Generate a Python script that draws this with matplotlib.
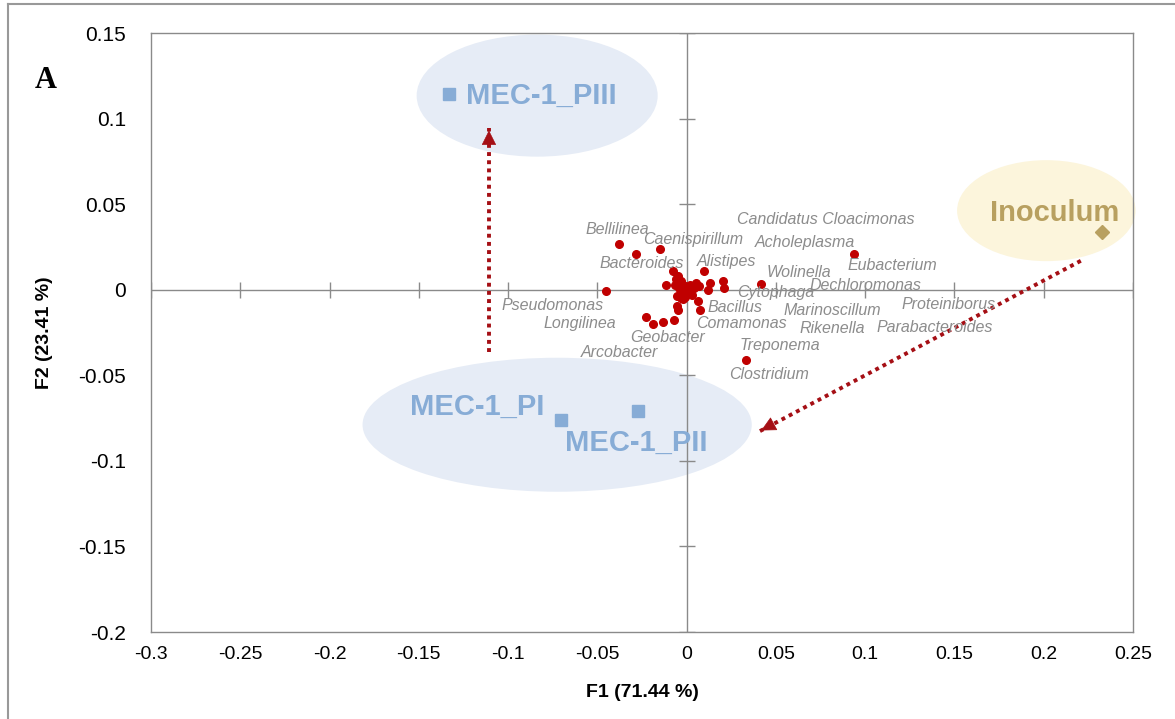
import matplotlib.pyplot as plt
from matplotlib.patches import Ellipse

# genus scores (F1, F2)
genus_x = [-0.0376, -0.0283, -0.015, -0.045, -0.0077, 0.0096, -0.0116, -0.0047, -0.0066,
           0.0, 0.007, 0.013, 0.0118, 0.0206, 0.0212, 0.0418, 0.094, -0.0056, -0.0019,
           0.0062, 0.0073, -0.0056, -0.005, -0.0229, -0.0189, -0.0133, -0.0071, 0.0333,
           -0.003, -0.001, 0.002, 0.004, -0.004, 0.001, -0.002, 0.003, -0.006, 0.005,
           -0.001, 0.006, -0.003, 0.002, 0.0015, -0.0025]
genus_y = [0.0269, 0.021, 0.0238, -0.001, 0.011, 0.011, 0.0025, 0.0078, 0.003,
           0.001, 0.002, 0.004, 0.0, 0.0053, 0.001, 0.0031, 0.021, -0.0039, -0.0054,
           -0.0068, -0.0117, -0.0097, -0.0121, -0.016, -0.0203, -0.0187, -0.0175, -0.0409,
           0.005, 0.002, 0.003, 0.001, 0.001, -0.001, -0.002, -0.003, 0.006, 0.004,
           -0.004, 0.002, -0.005, 0.0005, -0.0015, 0.0035]

genus_names = ['Bellilinea', 'Caenispirillum', 'Bacteroides', 'Alistipes', 'Candidatus Cloacimonas',
               'Acholeplasma', 'Wolinella', 'Eubacterium', 'Dechloromonas', 'Cytophaga',
               'Pseudomonas', 'Longilinea', 'Bacillus', 'Marinoscillum', 'Proteiniborus',
               'Comamonas', 'Rikenella', 'Parabacteroides', 'Geobacter', 'Arcobacter',
               'Treponema', 'Clostridium']
name_x = [-0.0567, -0.0243, -0.0487, 0.0056, 0.0281, 0.0384, 0.0449, 0.0899, 0.0687, 0.0281,
          -0.1036, -0.0802, 0.0118, 0.0543, 0.1202, 0.0056, 0.0633, 0.1064, -0.0318, -0.059,
          0.0294, 0.024]
name_y = [0.0351, 0.0292, 0.0156, 0.0165, 0.0409, 0.0277, 0.0103, 0.0142, 0.0025, -0.0016,
          -0.0094, -0.02, -0.0101, -0.0121, -0.0088, -0.0195, -0.0224, -0.022, -0.0277, -0.0366,
          -0.0327, -0.0497]

# sample scores
sample_names = ['MEC-1_PI', 'MEC-1_PII', 'MEC-1_PIII']
sample_x = [-0.0706, -0.027, -0.133]
sample_y = [-0.076, -0.0707, 0.1146]
sample_label_x = [-0.155, -0.0683, -0.1236]
sample_label_y = [-0.0682, -0.0896, 0.1134]
inoc_x, inoc_y = 0.2328, 0.034
inoc_label = (0.1702, 0.045)

# arrows (start, end)
arrows = [((-0.1107, -0.0362), (-0.1107, 0.0947)),
          ((0.2208, 0.0169), (0.0404, -0.083))]

xticks = [-0.3, -0.25, -0.2, -0.15, -0.1, -0.05, 0, 0.05, 0.1, 0.15, 0.2, 0.25]
yticks = [-0.2, -0.15, -0.1, -0.05, 0, 0.05, 0.1, 0.15]

fig = plt.figure(figsize=(11.75, 7.19), dpi=100)
ax = fig.add_axes([0.1285, 0.121, 0.8357, 0.8331])
ax.set_xlim(-0.3, 0.25)
ax.set_ylim(-0.2, 0.15)

grey = '#8a8a8a'
for s in ax.spines.values():
    s.set_color(grey)
    s.set_linewidth(1)

# ellipses around groups
ax.add_patch(Ellipse((-0.0837, 0.1134), 0.135, 0.0713, color='#e6ecf6', zorder=1, lw=0))
ax.add_patch(Ellipse((-0.0725, -0.0789), 0.218, 0.0783, color='#e6ecf6', zorder=1, lw=0))
ax.add_patch(Ellipse((0.2015, 0.0462), 0.1, 0.059, color='#fcf5dc', zorder=1, lw=0,
                     clip_on=False))

# zero axes with cross ticks
ax.axhline(0, color=grey, lw=1, zorder=2)
ax.axvline(0, color=grey, lw=1, zorder=2)
ax.plot(xticks, [0] * len(xticks), ls='none', marker='|', ms=12, mew=1, color=grey, zorder=2)
ax.plot([0] * len(yticks), yticks, ls='none', marker='_', ms=12, mew=1, color=grey, zorder=2)

ax.set_xticks(xticks)
ax.set_yticks(yticks)
ax.set_xticklabels([f'{t:g}' for t in xticks], family=['Liberation Sans Narrow', 'Liberation Sans'],
                   fontsize=14)
ax.set_yticklabels([f'{t:g}' for t in yticks], family='Liberation Sans', fontsize=15)
ax.tick_params(axis='x', length=0, pad=10)
ax.tick_params(axis='y', length=0, pad=18)

# arrows
arrow_col = '#a50f15'
for (x0, y0), (x1, y1) in arrows:
    ax.plot([x0, x1], [y0, y1], color=arrow_col, lw=2.8, dashes=(1, 1.1), zorder=3)
    ax.annotate('', xy=(x1, y1), xytext=(x1 + (x0 - x1) * 0.04, y1 + (y0 - y1) * 0.04),
                arrowprops=dict(arrowstyle='-|>', color=arrow_col, lw=0.5, mutation_scale=24),
                zorder=4)

# genus points and names
ax.plot(genus_x, genus_y, ls='none', marker='o', ms=5.5, color='#c00000', zorder=5)
for n, x, y in zip(genus_names, name_x, name_y):
    ax.text(x, y, n, ha='left', va='center', style='italic', color='#8c8c8c',
            family='Liberation Sans', fontsize=11.5, zorder=6)

# samples
ax.plot(sample_x, sample_y, ls='none', marker='s', ms=9, color='#87acd6', zorder=5)
for n, x, y in zip(sample_names, sample_label_x, sample_label_y):
    ax.text(x, y, n, ha='left', va='center', fontweight='bold', color='#87acd6',
            family='Liberation Sans', fontsize=21, zorder=6)
ax.plot([inoc_x], [inoc_y], ls='none', marker='D', ms=7, color='#b8a060', zorder=5)
ax.text(inoc_label[0], inoc_label[1], 'Inoculum', ha='left', va='center', fontweight='bold',
        color='#b8a060', family='Liberation Sans', fontsize=21, zorder=6)

ax.set_xlabel('F1 (71.44 %)', fontweight='bold', fontsize=14,
              family=['Liberation Sans Narrow', 'Liberation Sans'], labelpad=15)
ax.set_ylabel('F2 (23.41 %)', fontweight='bold', fontsize=14, family='Liberation Sans', labelpad=18)

fig.text(35 / 1175, 1 - 80 / 719, 'A', fontweight='bold', fontsize=22, family='Liberation Serif',
         va='center', ha='left')

# outer frame lines
fig.add_artist(plt.Line2D([8 / 1175, 1], [1 - 4 / 719, 1 - 4 / 719], color='#999999', lw=1.5))
fig.add_artist(plt.Line2D([8 / 1175, 8 / 1175], [0, 1 - 4 / 719], color='#999999', lw=1.5))

fig.savefig('out.png', dpi=100)
